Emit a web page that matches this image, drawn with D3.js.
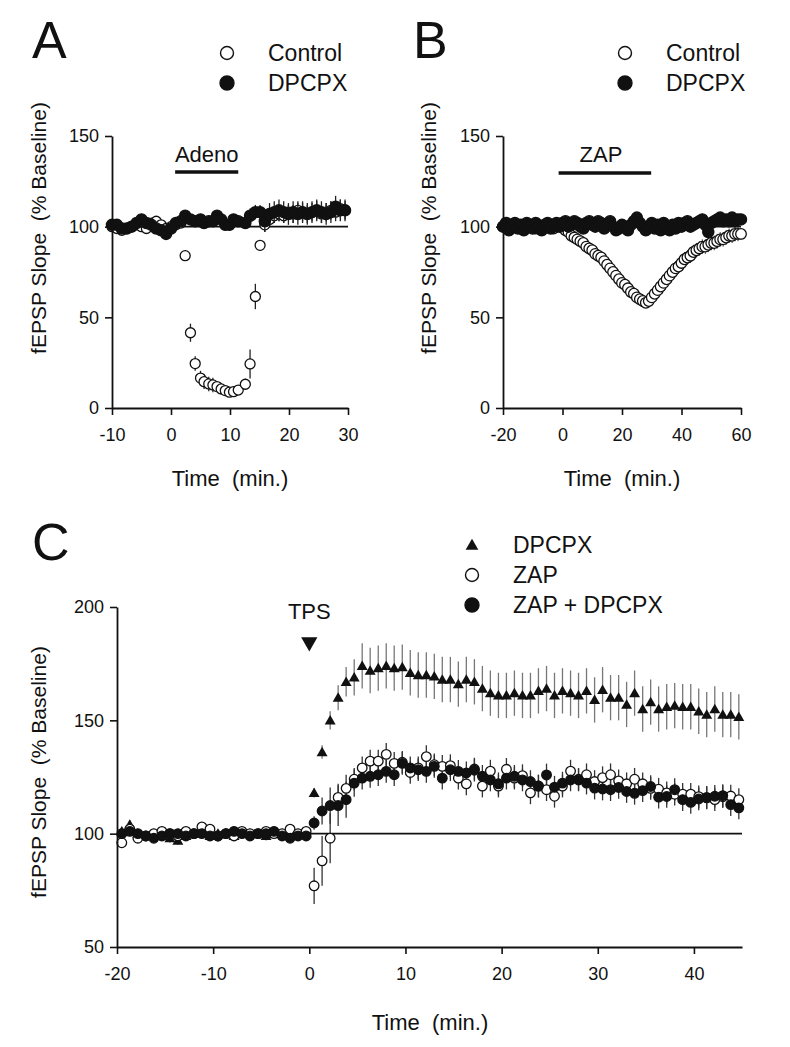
<!DOCTYPE html>
<html><head><meta charset="utf-8">
<script src="https://cdn.jsdelivr.net/npm/d3@7/dist/d3.min.js"></script>
<style>body{margin:0;background:#fff}svg{display:block}</style>
</head><body>
<svg id="fig" width="790" height="1047"></svg>
<script>
// ---------------- Panel A data ----------------
const timeA = [-10,-9.17,-8.33,-7.5,-6.67,-5.83,-5,-4.17,-3.33,-2.5,-1.67,-0.83,0,0.83,1.67,
  2.4,3.3,4.1,5.0,5.6,6.4,7.1,7.8,8.5,9.2,9.9,10.6,11.4,12.6,13.4,14.3,15.1,
  15.9,16.7,17.5,18.3,19.1,19.9,20.7,21.5,22.3,23.1,23.9,24.7,25.5,26.3,27.1,27.9,28.7,29.5];
const controlA = [100,99,98,99,100,101,100,99,102,103,101,99,100,101,102,
  84,41.5,24.5,16.5,14.5,13.3,12.7,11.8,10.5,9.6,8.7,9.0,9.9,13.1,24.3,61.5,89.7,
  101,104,106,107,106,108,107,109,108,107,108,109,107,108,109,108,110,109];
const controlAErr = [1.5,1.5,1.5,1.5,1.5,1.5,1.5,1.5,1.5,1.5,1.5,1.5,1.5,1.5,1.5,
  1,5,4,4,4,4,4,3,3,3,2,2,2,3,8,7,3,
  4,4,4,4,4,4,5,5,5,5,5,5,5,5,5,5,5,5];
const dpcpxA = [101,101,99,99,100,102,104,102,101,99,98,96,99,102,103,
  106,104,103,104,102,103,103,106,104,101,101,104,103,102,106,108,108,
  103,107,108,109,108,107,108,107,108,107,108,109,108,107,108,111,109,109];
const dpcpxAErr = [2.5,2.5,2.5,2.5,2.5,2.5,2.5,2.5,2.5,2.5,2.5,2.5,2.5,2.5,2.5,
  3,3,3,3,3,3,3,3,3,3,3,3,3,3,4,4,4,
  6,6,6,6,6,6,6,6,6,6,6,6,6,6,6,6,6,6];
const adenoBar = [0.7, 11.4];

// ---------------- Panel B data ----------------
const timeB = [-20,-19,-18,-17,-16,-15,-14,-13,-12,-11,-10,-9,-8,-7,-6,-5,-4,-3,-2,-1,
  0,1,2,3,4,5,6,7,8,9,10,11,12,13,14,15,16,17,18,19,20,
  21,22,23,24,25,26,27,28,29,30,31,32,33,34,35,36,37,38,39,40,
  41,42,43,44,45,46,47,48,49,50,51,52,53,54,55,56,57,58,59,60];
const controlB = [100,101,99,100,101,100,99,100,101,100,100,99,101,100,100,101,100,99,100,101,
  100,98,97,95,94,93,92,91,89,88,87,85,84,83,81,79,77,75,73,71,69,
  68,66,64,63,61,60,59,58,59,61,63,65,67,69,71,73,75,77,78,80,
  82,83,84,86,87,88,89,89,90,91,91,92,93,93,94,95,95,96,96,96];
const controlBErr = [1.5,1.5,1.5,1.5,1.5,1.5,1.5,1.5,1.5,1.5,1.5,1.5,1.5,1.5,1.5,1.5,1.5,1.5,1.5,1.5,
  2,2,2,2,2,2,2,2,2,2,2,2,2,2,2,2,2,2,2,2,2,
  2,2,2,2,2,2,2,2,3,3,3,4,4,4,4,4,4,4,4,4,
  4,4,4,4,4,4,4,4,4,4,4,4,4,4,4,4,4,4,4,3];
const dpcpxB = [100,102,98,101,102,99,101,98,102,100,99,102,100,98,101,102,99,101,102,100,
  102,103,100,101,103,102,100,99,102,103,101,100,103,102,99,101,103,100,98,99,101,
  100,98,101,103,105,102,100,98,100,102,99,101,98,102,100,98,101,99,102,100,
  102,103,100,101,102,103,104,101,97,102,103,104,105,103,104,103,105,103,104,104];
const dpcpxBErr = dpcpxB.map(() => 3);
const zapBarB = [-1.3, 29.8];

// ---------------- Panel C data ----------------
const timeC = [-19.5,-18.67,-17.83,-17,-16.17,-15.33,-14.5,-13.67,-12.83,-12,-11.17,-10.33,
  -9.5,-8.67,-7.83,-7,-6.17,-5.33,-4.5,-3.67,-2.83,-2,-1.17,-0.33,
  0.5,1.33,2.17,3,3.83,4.67,5.5,6.33,7.17,8,8.83,9.67,10.5,11.33,12.17,13,13.83,14.67,
  15.5,16.33,17.17,18,18.83,19.67,20.5,21.33,22.17,23,23.83,24.67,25.5,26.33,27.17,28,
  28.83,29.67,30.5,31.33,32.17,33,33.83,34.67,35.5,36.33,37.17,38,38.83,39.67,40.5,
  41.33,42.17,43,43.83,44.67];
const dpcpxC = [101,104,100,99,100,99,98,97,99,100,100,99,100,100,99,100,100,100,99,100,100,99,100,100,
  118,136,150,160,167,169,174,172,173,174,173,173.5,171,170,170,169.4,168,168,
  166,168,167,164,162,161,161,162,161,161,163,164,161,163,162,161,
  163,159,163.5,160,160,157,162,155,158,155,156,156.5,156,156,154,
  152.5,155,152.5,152.5,151.5];
const dpcpxCErr = [2,2,2,2,2,2,2,2,2,2,2,2,2,2,2,2,2,2,2,2,2,2,2,2,
  2,3,4,5.5,6.5,8,10,10,10,10,10,10,10,10,10,10,10,10,
  10,10,10,10,10,10,10,10,10,10,10,10,10,10,10,10,
  10,10,10,10,10,10,10,10,10,10,10,10,10,10,10,
  10,10,10,10,10];
const zapC = [96,102,98,99,100,101,100,99,101,100,103,102,99,100,99,101,100,100,101,100,100,102,100,101,
  77,88,98,116,120,124,129,132,132,135,131,131.5,127,129,134,130.4,129.7,130,
  124.5,122,128.5,121,127.6,121,128.4,124.5,125.6,118,121,119.4,116.5,121,127.6,124,
  126,123,124.7,126,123.3,122,124,122,120,119.6,118,117.4,117.4,117.4,116.3,
  116,115,116.3,116.6,115];
const zapCErr = [1.5,1.5,1.5,1.5,1.5,1.5,1.5,1.5,1.5,1.5,1.5,1.5,1.5,1.5,1.5,1.5,1.5,1.5,1.5,1.5,1.5,1.5,1.5,1.5,
  8,11,11,6,6,5,5,5,5,5,5,5,5,5,5,5,5,5,
  5,5,5,5,5,5,5,5,5,5,5,5,5,5,5,5,
  5,5,5,5,5,5,5,5,5,5,5,5,5,5,5,
  5,5,5,5,5];
const zapDpcpxC = [100,101,100,99,98,99,100,100,99,100,100,99,99,100,101,100,99,100,100,101,99,98,99,99,
  104.7,110,112.4,112.4,115,122.3,124.5,125.3,126,127.5,126,131,129,128.2,127.5,129.7,124.5,128.2,
  127.5,126.8,128,125.3,123.7,122,124.5,125.3,123.7,123,121,125.9,120.5,122.3,123.7,123.7,
  122.3,120.1,119.7,119.4,120.4,118.6,117.8,119,120.8,116.1,116.4,119.4,115,113.8,115.3,
  115.8,116.5,116.8,112.8,111.4];
const zapDpcpxCErr = [1.5,1.5,1.5,1.5,1.5,1.5,1.5,1.5,1.5,1.5,1.5,1.5,1.5,1.5,1.5,1.5,1.5,1.5,1.5,1.5,1.5,1.5,1.5,1.5,
  3,6,8,9,8,6,5,5,5,5,5,5,5,5,5,5,5,5,
  5,5,5,5,5,5,5,5,5,5,5,5,5,5,5,5,
  5,5,5,5,5,5,5,5,5,5,5,5,5,5,5,
  5,5,5,5,5];

// ---------------- Ticks / labels ----------------
const xTicksA = [-10,0,10,20,30];
const xTicksB = [-20,0,20,40,60];
const yTicksAB = [0,50,100,150];
const xTicksC = [-20,-10,0,10,20,30,40];
const yTicksC = [50,100,150,200];
const legendAB = ["Control","DPCPX"];
const legendC = ["DPCPX","ZAP","ZAP + DPCPX"];
const yTitle = "fEPSP Slope\u00a0\u00a0(% Baseline)";
const xTitle = "Time\u00a0\u00a0(min.)";

// ---------------- drawing ----------------
const FONT = "'Liberation Sans', Arial, Helvetica, sans-serif";
const svg = d3.select('#fig');

function drawAxes(x, y, xt, yt) {
  const gx = svg.append('g').attr('transform', `translate(0,${y.range()[0]})`)
    .call(d3.axisBottom(x).tickValues(xt).tickSize(7).tickSizeOuter(0).tickPadding(13).tickFormat(d3.format('d')));
  const gy = svg.append('g').attr('transform', `translate(${x.range()[0]},0)`)
    .call(d3.axisLeft(y).tickValues(yt).tickSize(7).tickSizeOuter(0).tickPadding(6).tickFormat(d3.format('d')));
  [gx, gy].forEach(g => {
    g.select('.domain').attr('stroke', '#111').attr('stroke-width', 1.8);
    g.selectAll('.tick line').attr('stroke', '#111').attr('stroke-width', 1.6);
    g.selectAll('.tick text').attr('font-family', FONT).attr('font-size', 18).attr('fill', '#111');
  });
  gx.selectAll('.tick text').text(d => d < 0 ? '-' + Math.abs(d) : d);
}

function baseline(x, y, v) {
  svg.append('line').attr('x1', x.range()[0]).attr('x2', x.range()[1])
    .attr('y1', y(v)).attr('y2', y(v)).attr('stroke', '#111').attr('stroke-width', 1.6);
}

function errorBars(x, y, t, v, e, color, w) {
  svg.append('g').selectAll('line').data(t).join('line')
    .attr('x1', (d) => x(d)).attr('x2', (d) => x(d))
    .attr('y1', (d, i) => y(v[i] - e[i])).attr('y2', (d, i) => y(v[i] + e[i]))
    .attr('stroke', color).attr('stroke-width', w);
}

function circles(x, y, t, v, r, filled) {
  svg.append('g').selectAll('circle').data(t).join('circle')
    .attr('cx', d => x(d)).attr('cy', (d, i) => y(v[i])).attr('r', r)
    .attr('fill', filled ? '#111' : '#fff').attr('stroke', '#111').attr('stroke-width', 1.3);
}

function triangles(x, y, t, v, size) {
  svg.append('g').selectAll('path').data(t).join('path')
    .attr('d', d3.symbol(d3.symbolTriangle, size)())
    .attr('transform', (d, i) => `translate(${x(d)},${y(v[i]) + 1})`)
    .attr('fill', '#111');
}

function text(str, x, y, size, anchor, rot) {
  const t = svg.append('text').attr('x', x).attr('y', y).text(str)
    .attr('font-family', FONT).attr('font-size', size).attr('fill', '#111')
    .attr('text-anchor', anchor || 'start');
  if (rot) t.attr('transform', `rotate(${rot},${x},${y})`);
  return t;
}

function legendCircle(cx, cy, filled, label, r) {
  svg.append('circle').attr('cx', cx).attr('cy', cy).attr('r', r)
    .attr('fill', filled ? '#111' : '#fff').attr('stroke', '#111').attr('stroke-width', 1.4);
  text(label, cx + 41, cy + 8, 23);
}

// ---- Panel A ----
const xA = d3.scaleLinear().domain([-10, 30]).range([112, 348]);
const yA = d3.scaleLinear().domain([0, 150]).range([408, 136]);
baseline(xA, yA, 100);
errorBars(xA, yA, timeA, controlA, controlAErr, '#222', 1.3);
circles(xA, yA, timeA, controlA, 5, false);
errorBars(xA, yA, timeA, dpcpxA, dpcpxAErr, '#222', 1.3);
circles(xA, yA, timeA, dpcpxA, 5.6, true);
drawAxes(xA, yA, xTicksA, yTicksAB);
svg.append('line').attr('x1', xA(adenoBar[0])).attr('x2', xA(adenoBar[1]))
  .attr('y1', 172).attr('y2', 172).attr('stroke', '#111').attr('stroke-width', 3.5);
text('Adeno', xA((adenoBar[0] + adenoBar[1]) / 2), 162, 22, 'middle');
text('A', 32, 58, 52);
legendCircle(227, 53, false, legendAB[0], 6.5);
legendCircle(227, 83, true, legendAB[1], 7);
text(yTitle, 46, 228, 21, 'middle', -90);
text(xTitle, 230, 486, 22, 'middle');

// ---- Panel B ----
const xB = d3.scaleLinear().domain([-20, 60]).range([503, 741]);
const yB = d3.scaleLinear().domain([0, 150]).range([408, 136]);
baseline(xB, yB, 100);
errorBars(xB, yB, timeB, controlB, controlBErr, '#333', 1);
circles(xB, yB, timeB, controlB, 5.3, false);
errorBars(xB, yB, timeB, dpcpxB, dpcpxBErr, '#222', 1.2);
circles(xB, yB, timeB, dpcpxB, 5.6, true);
drawAxes(xB, yB, xTicksB, yTicksAB);
svg.append('line').attr('x1', xB(zapBarB[0])).attr('x2', xB(zapBarB[1]))
  .attr('y1', 173).attr('y2', 173).attr('stroke', '#111').attr('stroke-width', 3.5);
text('ZAP', 601, 162, 22, 'middle');
text('B', 413, 58, 52);
legendCircle(625, 53, false, legendAB[0], 6.5);
legendCircle(625, 83, true, legendAB[1], 7);
text(yTitle, 436, 228, 21, 'middle', -90);
text(xTitle, 622, 486, 22, 'middle');

// ---- Panel C ----
const xC = d3.scaleLinear().domain([-20, 45]).range([117, 742]);
const yC = d3.scaleLinear().domain([50, 200]).range([947, 607]);
baseline(xC, yC, 100);
errorBars(xC, yC, timeC, dpcpxC, dpcpxCErr, '#777', 1.3);
errorBars(xC, yC, timeC, zapC, zapCErr, '#333', 1.3);
errorBars(xC, yC, timeC, zapDpcpxC, zapDpcpxCErr, '#333', 1.3);
triangles(xC, yC, timeC, dpcpxC, 52);
circles(xC, yC, timeC, zapC, 4.8, false);
circles(xC, yC, timeC, zapDpcpxC, 4.8, true);
drawAxes(xC, yC, xTicksC, yTicksC);
text('TPS', xC(0), 619, 22, 'middle');
svg.append('path').attr('d', d3.symbol(d3.symbolTriangle, 115)())
  .attr('transform', `translate(${xC(0)},642) rotate(180)`).attr('fill', '#111');
text('C', 32, 560, 52);
svg.append('path').attr('d', d3.symbol(d3.symbolTriangle, 70)())
  .attr('transform', 'translate(472,546)').attr('fill', '#111');
text(legendC[0], 513, 553, 23);
legendCircle(472, 575, false, legendC[1], 6.5);
legendCircle(472, 605, true, legendC[2], 7);
text(yTitle, 46, 772, 21, 'middle', -90);
text(xTitle, 430, 1030, 22, 'middle');
</script>
</body></html>
